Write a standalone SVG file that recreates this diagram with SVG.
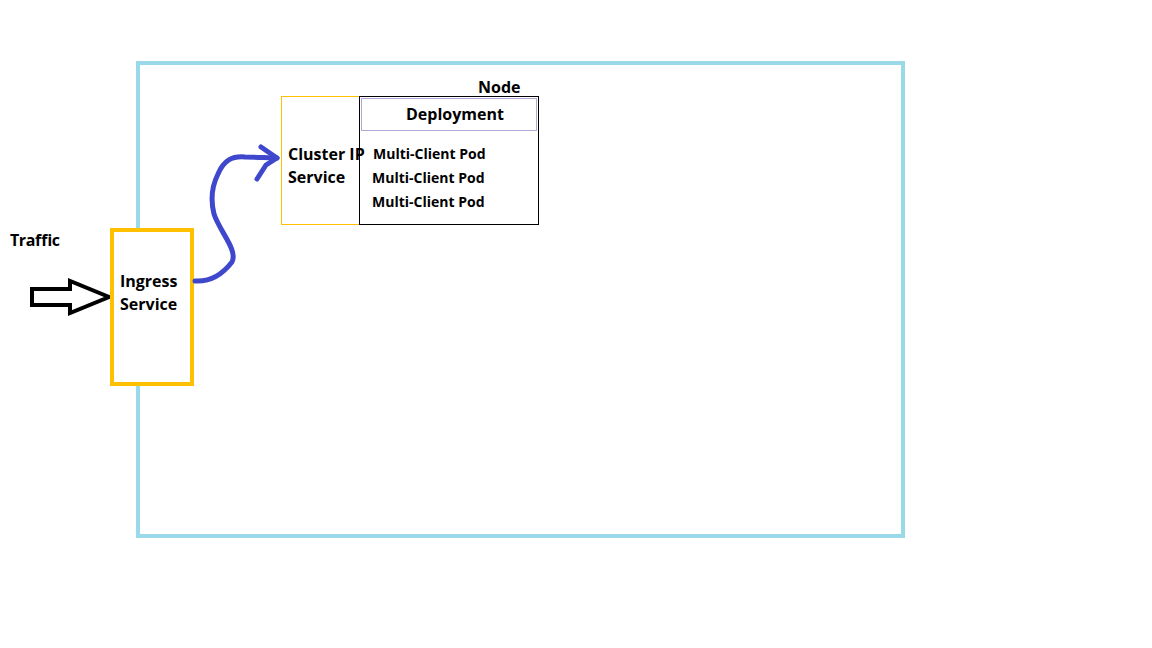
<svg xmlns="http://www.w3.org/2000/svg" width="1152" height="648" viewBox="0 0 1152 648">
<style>
.t{font-family:"Open Sans","Liberation Sans",sans-serif;font-weight:bold;fill:#000}
.l{font-size:16px}
.s{font-size:14px}
</style>
<rect width="1152" height="648" fill="#fff"/>
<g id="node">
<rect x="138" y="63" width="765" height="473" fill="none" stroke="#99d9ea" stroke-width="4"/>
<text class="t l" x="478" y="93">Node</text>
</g>
<g id="traffic">
<text class="t l" x="10" y="246" textLength="50">Traffic</text>
<path d="M32,289 H70 V281 L109,297 L70,313 V305 H32 Z" fill="#fff" stroke="#000" stroke-width="4" stroke-linejoin="miter"/>
</g>
<g id="ingress">
<rect x="112" y="230" width="80" height="154" fill="#fff" stroke="#ffc000" stroke-width="4"/>
<text class="t l" x="120" y="287">Ingress</text>
<text class="t l" x="120" y="310">Service</text>
</g>
<g id="clusterip">
<rect x="281.5" y="96.5" width="78" height="128" fill="#fff" stroke="#ffc000" stroke-width="1"/>
<text class="t l" x="288" y="160">Cluster IP</text>
<text class="t l" x="288" y="183">Service</text>
</g>
<g id="deployment">
<rect x="359.5" y="96.5" width="179" height="128" fill="none" stroke="#000" stroke-width="1"/>
<rect x="361.5" y="98.5" width="175" height="32" fill="#fff" stroke="#b4a7d6" stroke-width="1"/>
<text class="t l" x="406" y="120">Deployment</text>
<text class="t s" x="373" y="159">Multi-Client Pod</text>
<text class="t s" x="372" y="183">Multi-Client Pod</text>
<text class="t s" x="372" y="207">Multi-Client Pod</text>
</g>
<g id="connectors" fill="none" stroke="#3f48cc" stroke-width="5" stroke-linecap="round" stroke-linejoin="round">
<path d="M195,281 C210,282 222,275 232,262 C238,250 220,232 214,214 C210,198 213,184 218,174 C224,160 232,156 245,157 C258,157 268,158 277,158"/>
<path d="M261,147 L277,158 L266,165 L257,179"/>
</g>
</svg>
